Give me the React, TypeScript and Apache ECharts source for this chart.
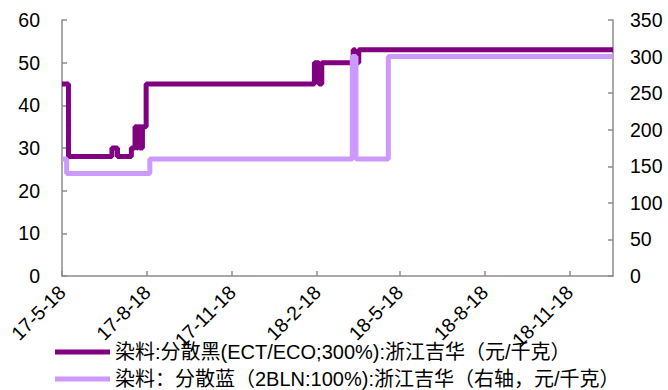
import React, { useEffect, useRef } from "react";
import * as echarts from "echarts";

const blackName = "染料:分散黑(ECT/ECO;300%):浙江吉华（元/千克）";
const blueName = "染料：分散蓝（2BLN:100%):浙江吉华（右轴，元/千克）";

const blackDates = [
  "2017-05-18", "2017-05-25", "2017-07-11", "2017-07-17", "2017-08-01", "2017-08-05",
  "2017-08-07", "2017-08-08", "2017-08-10", "2017-08-11", "2017-08-12", "2017-08-13",
  "2017-08-17", "2018-02-15", "2018-02-20", "2018-02-23", "2018-03-29", "2018-03-31",
  "2018-04-04", "2019-01-04",
];
const blackValues = [45, 28, 30, 28, 30, 35, 30, 35, 30, 35, 30, 35, 45, 50, 45, 50, 53, 50, 53, 53];

const blueDates = ["2017-05-18", "2017-05-23", "2017-08-21", "2018-03-28", "2018-04-01", "2018-05-06", "2019-01-04"];
const blueValues = [160, 140, 160, 300, 160, 300, 300];

const tickLabels = ["17-5-18", "17-8-18", "17-11-18", "18-2-18", "18-5-18", "18-8-18", "18-11-18"];
const xStart = "2017-05-18";
const xEnd = "2019-01-04";

const DAY = 86400000;
const parseIso = (s: string) => {
  const [y, m, d] = s.split("-").map(Number);
  return Date.UTC(y, m - 1, d) / DAY;
};
const parseTick = (s: string) => {
  const [yy, m, d] = s.split("-").map(Number);
  return Date.UTC(2000 + yy, m - 1, d) / DAY;
};

const FONT = "'Liberation Sans', Arial, 'Noto Sans CJK SC', sans-serif";
const FS = 19.5;

export default function App() {
  const ref = useRef<HTMLDivElement>(null);
  useEffect(() => {
    if (!ref.current) return;
    const chart = echarts.init(ref.current, undefined, { renderer: "svg" });
    const tickVals = tickLabels.map(parseTick);
    const axisLine = { show: true, lineStyle: { color: "#8c8c8c", width: 1.5 } };
    const tickStyle = { color: "#8c8c8c", width: 1.5 };
    const legendBase = {
      orient: "horizontal",
      left: 55,
      padding: 0,
      itemWidth: 55,
      itemHeight: 5,
      itemTextGap: 5,
      icon: "rect",
      textStyle: { fontSize: 20, color: "#000", fontFamily: FONT },
    };
    chart.setOption({
      animation: false,
      textStyle: { fontFamily: FONT },
      grid: { left: 62, right: 55, top: 20, bottom: 114 },
      legend: [
        { ...legendBase, top: 342, data: [blackName] },
        { ...legendBase, top: 369, data: [blueName] },
      ],
      xAxis: {
        type: "value",
        min: parseIso(xStart),
        max: parseIso(xEnd),
        axisLine,
        axisTick: { show: true, inside: true, length: 5, customValues: tickVals, lineStyle: tickStyle },
        axisLabel: {
          customValues: tickVals,
          rotate: 45,
          margin: 13,
          fontSize: FS,
          color: "#000",
          fontFamily: FONT,
          formatter: (v: number) => {
            const i = tickVals.indexOf(v);
            return i >= 0 ? tickLabels[i] : "";
          },
        },
        splitLine: { show: false },
      },
      yAxis: [
        {
          type: "value",
          min: 0,
          max: 60,
          interval: 10,
          axisLine,
          axisTick: { show: true, inside: true, length: 5, lineStyle: tickStyle },
          axisLabel: { fontSize: FS, color: "#000", margin: 22, fontFamily: FONT },
          splitLine: { show: false },
        },
        {
          type: "value",
          min: 0,
          max: 350,
          interval: 50,
          position: "right",
          axisLine,
          axisTick: { show: true, inside: true, length: 5, lineStyle: tickStyle },
          axisLabel: { fontSize: FS, color: "#000", margin: 17, fontFamily: FONT },
          splitLine: { show: false },
        },
      ],
      series: [
        {
          name: blackName,
          type: "line",
          step: "end",
          yAxisIndex: 0,
          showSymbol: false,
          color: "#800080",
          lineStyle: { width: 5, color: "#800080" },
          data: blackDates.map((d, i) => [parseIso(d), blackValues[i]]),
        },
        {
          name: blueName,
          type: "line",
          step: "end",
          yAxisIndex: 1,
          showSymbol: false,
          color: "#CC99FF",
          lineStyle: { width: 5, color: "#CC99FF" },
          data: blueDates.map((d, i) => [parseIso(d), blueValues[i]]),
        },
      ],
    });
    return () => chart.dispose();
  }, []);
  return <div ref={ref} style={{ position: "absolute", left: 0, top: 0, width: 668, height: 390 }} />;
}
